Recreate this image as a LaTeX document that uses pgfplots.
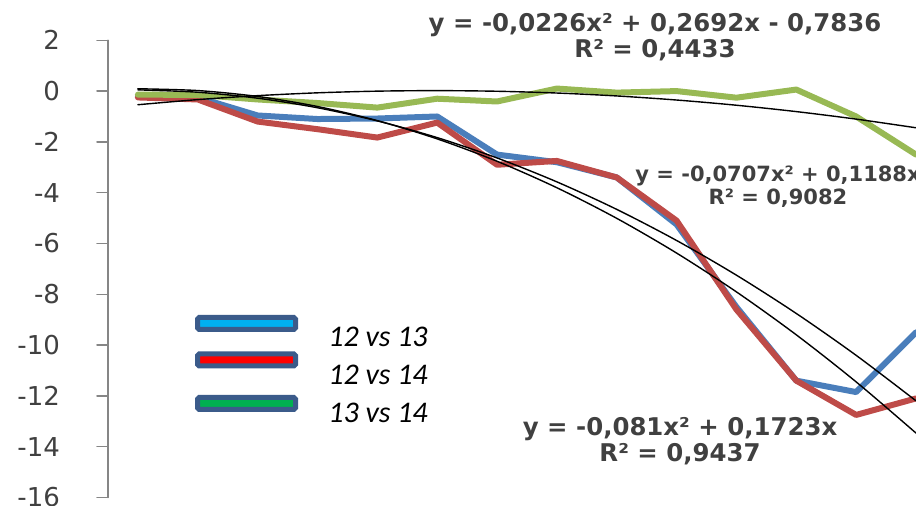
\documentclass[border=0pt]{standalone}
\usepackage{pgfplots}
\pgfplotsset{compat=1.18}
\usepackage{fontspec}
\setmainfont{Carlito}
\newfontfamily\dejavu{DejaVu Sans}
\definecolor{sblue}{HTML}{4A7EBB}
\definecolor{sred}{HTML}{BE4B48}
\definecolor{sgreen}{HTML}{98B954}
\definecolor{axgray}{HTML}{868686}
\definecolor{txtgray}{HTML}{404040}
\definecolor{lgborder}{HTML}{3B5B8A}
\definecolor{lgcyan}{HTML}{00B0F0}
\definecolor{lgred}{HTML}{FF0000}
\definecolor{lggreen}{HTML}{00B050}
\begin{document}
\begin{tikzpicture}[x=1pt,y=1pt]
\useasboundingbox (0,0) rectangle (458,253);
\begin{axis}[
  at={(54pt,4.25pt)}, anchor=south west,
  scale only axis, width=404pt, height=228.6pt,
  xmin=0.5, xmax=14, ymin=-16, ymax=2,
  axis x line=none, axis y line*=left,
  y axis line style={color=axgray, line width=0.75pt},
  ytick={-16,-14,...,2},
  yticklabels={-16,-14,-12,-10,-8,-6,-4,-2,0,2},
  tick align=outside, major tick length=5.5pt,
  ytick style={color=axgray, line width=0.75pt},
  yticklabel style={font=\dejavu\fontsize{13}{15}\selectfont, text=txtgray, xshift=-15pt},
  line join=round, line cap=round,
]
\addplot[sblue, line width=3pt] coordinates {(1,-0.2)(2,-0.25)(3,-0.96)(4,-1.1)(5,-1.08)(6,-1.0)(7,-2.5)(8,-2.8)(9,-3.4)(10,-5.25)(11,-8.5)(12,-11.4)(13,-11.85)(14,-9.5)};
\addplot[sred, line width=3pt] coordinates {(1,-0.25)(2,-0.33)(3,-1.2)(4,-1.5)(5,-1.83)(6,-1.24)(7,-2.9)(8,-2.75)(9,-3.4)(10,-5.1)(11,-8.6)(12,-11.4)(13,-12.75)(14,-12.1)};
\addplot[sgreen, line width=3pt] coordinates {(1,-0.14)(2,-0.15)(3,-0.33)(4,-0.47)(5,-0.65)(6,-0.3)(7,-0.41)(8,0.1)(9,-0.06)(10,0)(11,-0.26)(12,0.06)(13,-1.0)(14,-2.5)};
% trendlines
\addplot[black, line width=0.7pt, smooth] coordinates {(1,0.0913)(2,0.0206)(3,-0.2121)(4,-0.6068)(5,-1.1635)(6,-1.8822)(7,-2.7629)(8,-3.8056)(9,-5.0103)(10,-6.377)(11,-7.9057)(12,-9.5964)(13,-11.4491)(14,-13.4638)};
\addplot[black, line width=0.7pt, smooth] coordinates {(1,0.0481)(2,-0.0452)(3,-0.2799)(4,-0.656)(5,-1.1735)(6,-1.8324)(7,-2.6327)(8,-3.5744)(9,-4.6575)(10,-5.882)(11,-7.2479)(12,-8.7552)(13,-10.4039)(14,-12.194)};
\addplot[black, line width=0.7pt, smooth] coordinates {(1,-0.537)(2,-0.3356)(3,-0.1794)(4,-0.0684)(5,-0.0026)(6,0.018)(7,-0.0066)(8,-0.0764)(9,-0.1914)(10,-0.3516)(11,-0.557)(12,-0.8076)(13,-1.1034)(14,-1.4444)};
\end{axis}
% equation labels
\begin{scope}[every node/.style={text=txtgray, align=center, inner sep=0pt}]
\node[font=\dejavu\bfseries\fontsize{12.2}{12.8}\selectfont] at (327.5,234.5) {y = -0,0226x² + 0,2692x - 0,7836\\R² = 0,4433};
\node[font=\dejavu\bfseries\fontsize{10.5}{11.5}\selectfont, anchor=west] at (317.5,159.75) {y = -0,0707x² + 0,1188x\\R² = 0,9082};
\node[font=\dejavu\bfseries\fontsize{12.2}{12.8}\selectfont] at (340,32.5) {y = -0,081x² + 0,1723x\\R² = 0,9437};
\end{scope}
% legend
\draw[line width=2.5pt, lgborder, fill=lgcyan, rounded corners=0.8pt] (98.75,88.25) rectangle (147.75,94.25);
\draw[line width=2.5pt, lgborder, fill=lgred, rounded corners=0.8pt] (98.75,70) rectangle (147.75,76);
\draw[line width=2.5pt, lgborder, fill=lggreen, rounded corners=0.8pt] (98.75,48.25) rectangle (147.75,54.25);
\begin{scope}[every node/.style={font=\itshape\fontsize{15}{17}\selectfont, anchor=west, inner sep=0pt}]
\node at (164,84.5) {12 vs 13};
\node at (164,65.5) {12 vs 14};
\node at (164,46.5) {13 vs 14};
\end{scope}
\end{tikzpicture}
\end{document}
